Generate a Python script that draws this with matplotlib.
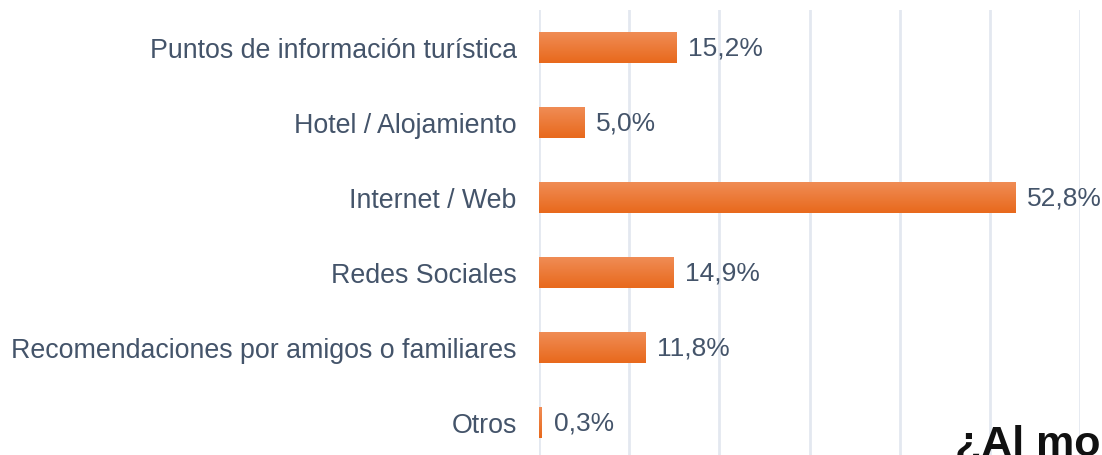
import numpy as np
import matplotlib
matplotlib.use("Agg")
import matplotlib.pyplot as plt
from matplotlib.colors import LinearSegmentedColormap

categorias = ["Puntos de información turística", "Hotel / Alojamiento", "Internet / Web",
              "Redes Sociales", "Recomendaciones por amigos o familiares", "Otros"]
valores = [15.2, 5.0, 52.8, 14.9, 11.8, 0.3]
etiquetas = ["15,2%", "5,0%", "52,8%", "14,9%", "11,8%", "0,3%"]

texto_color = "#44546A"
plt.rcParams['font.family'] = ['Liberation Sans', 'DejaVu Sans']

fig = plt.figure(figsize=(11.02, 4.55), dpi=100)
ax = fig.add_axes([539 / 1102, -0.011, 541 / 1102, 450 / 455])

y = np.arange(len(categorias))
bars = ax.barh(y, valores, height=0.41, color="#EE7A30", zorder=3)

# degradado vertical en cada barra
cmap = LinearSegmentedColormap.from_list("naranja", ["#F08C55", "#E8691C"])
grad = np.linspace(0, 1, 64).reshape(-1, 1)
for b in bars:
    x0, y0 = b.get_x(), b.get_y()
    w, h = b.get_width(), b.get_height()
    im = ax.imshow(grad, cmap=cmap, aspect="auto", extent=(x0, x0 + w, y0 + h, y0),
                   origin="upper", zorder=4)
    im.set_clip_path(b)

for yi, v, t in zip(y, valores, etiquetas):
    ax.annotate(t, (v, yi), xytext=(12, -1), textcoords="offset pixels",
                va="center", ha="left", fontsize=19, color=texto_color)

ax.set_xlim(0, 60)
ax.set_ylim(5.5, -0.5)
ax.set_xticks(range(0, 61, 10))
ax.set_yticks(y)
ax.set_yticklabels(categorias, fontsize=19.3, color=texto_color)
ax.tick_params(axis="y", length=0, pad=16)
ax.tick_params(axis="x", length=0, labelbottom=False)
ax.grid(axis="x", color="#E3E8F0", linewidth=2, zorder=0)
for s in ax.spines.values():
    s.set_visible(False)

fig.text(955 / 1102, -1 / 455, "¿Al mo", fontsize=31, fontweight="bold",
         color="#111111", ha="left", va="baseline")

fig.savefig("out.png", dpi=100)
